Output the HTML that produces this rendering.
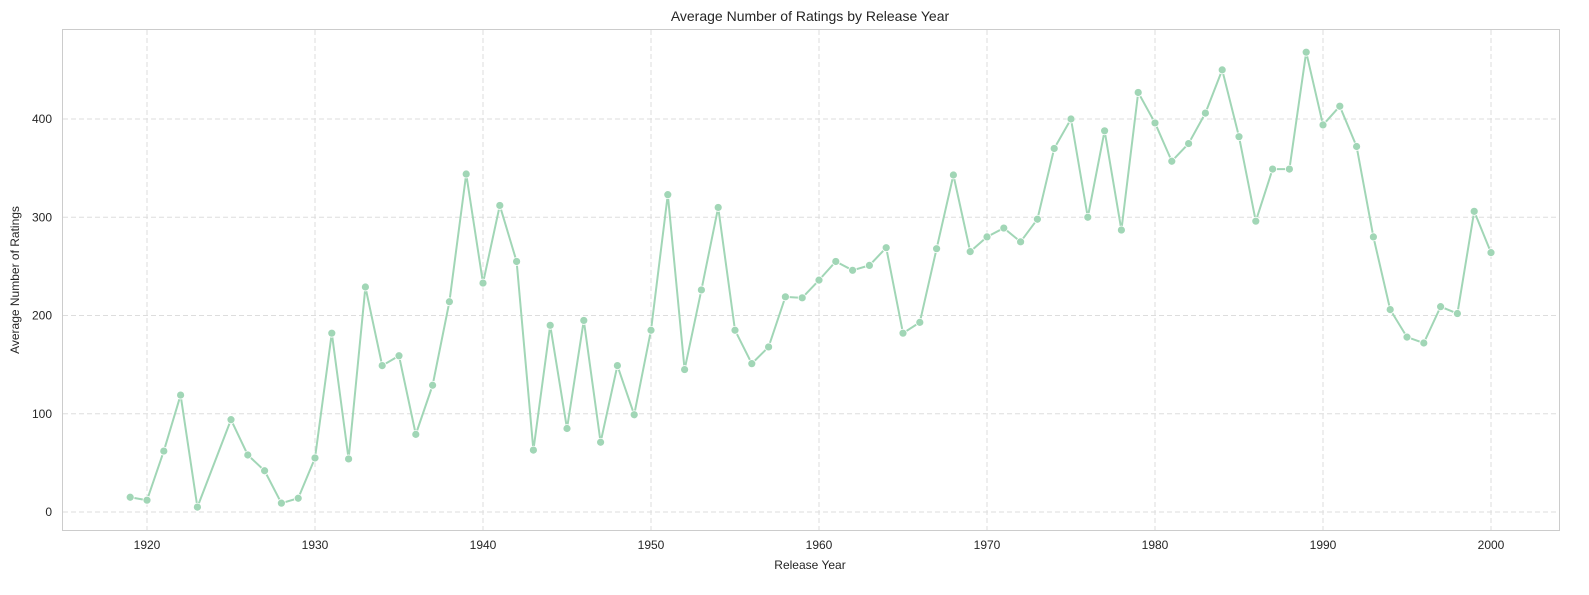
<!DOCTYPE html>
<html><head><meta charset="utf-8"><style>
body{margin:0;background:#fff;font-family:"Liberation Sans",Arial,sans-serif;}
svg text{font-family:"Liberation Sans",Arial,sans-serif;fill:#262626;}
</style></head><body>
<svg id="chart" width="1589" height="590" viewBox="0 0 1589 590" xmlns="http://www.w3.org/2000/svg">
<text x="810" y="21" font-size="14" text-anchor="middle">Average Number of Ratings by Release Year</text>
<text x="810" y="569" font-size="12" text-anchor="middle">Release Year</text>
<text transform="translate(19,280) rotate(-90)" font-size="12" text-anchor="middle">Average Number of Ratings</text>
<g id="grid"></g><g id="axes"></g><g id="series"></g>
<rect x="62.5" y="29.5" width="1497" height="501" fill="none" stroke="#cccccc" stroke-width="1"/>
</svg>
<script>
const years = [1919,1920,1921,1922,1923,1925,1926,1927,1928,1929,1930,1931,1932,1933,1934,1935,1936,1937,1938,1939,1940,1941,1942,1943,1944,1945,1946,1947,1948,1949,1950,1951,1952,1953,1954,1955,1956,1957,1958,1959,1960,1961,1962,1963,1964,1965,1966,1967,1968,1969,1970,1971,1972,1973,1974,1975,1976,1977,1978,1979,1980,1981,1982,1983,1984,1985,1986,1987,1988,1989,1990,1991,1992,1993,1994,1995,1996,1997,1998,1999,2000];
const ratings = [15,12,62,119,5,94,58,42,9,14,55,182,54,229,149,159,79,129,214,344,233,312,255,63,190,85,195,71,149,99,185,323,145,226,310,185,151,168,219,218,236,255,246,251,269,182,193,268,343,265,280,289,275,298,370,400,300,388,287,427,396,357,375,406,450,382,296,349,349,468,394,413,372,280,206,178,172,209,202,306,264];
const xTicks = [1920,1930,1940,1950,1960,1970,1980,1990,2000];
const yTicks = [0,100,200,300,400];
const NS="http://www.w3.org/2000/svg";
function xs(v){return 147+(v-1920)*16.8;}
function ys(v){return 512-v*0.9825;}
function mk(tag,attrs,parent){const e=document.createElementNS(NS,tag);for(const k in attrs)e.setAttribute(k,attrs[k]);parent.appendChild(e);return e;}
const grid=document.getElementById('grid'),axes=document.getElementById('axes'),series=document.getElementById('series');
xTicks.forEach(t=>{
  const l=mk('line',{x1:xs(t),x2:xs(t),y1:30,y2:530,stroke:'#dddddd','stroke-dasharray':'5,3'},grid);
  
  
  const tx=mk('text',{x:xs(t),y:549,'font-size':'12','text-anchor':'middle'},axes);
  tx.textContent=t;
  
  
});
yTicks.forEach(t=>{
  const l=mk('line',{x1:63,x2:1559,y1:ys(t),y2:ys(t),stroke:'#dddddd','stroke-dasharray':'5,3'},grid);
  
  
  const tx=mk('text',{x:52,y:ys(t)+4,'font-size':'12','text-anchor':'end'},axes);
  tx.textContent=t;
  
  
});
const pts=years.map((y,i)=>xs(y)+','+ys(ratings[i])).join(' ');
const pl=mk('polyline',{points:pts,fill:'none',stroke:'#a1d6b6','stroke-width':'2','stroke-linejoin':'round'},series);


years.forEach((y,i)=>{
  const c=mk('circle',{cx:xs(y),cy:ys(ratings[i]),r:4,fill:'#a1d6b6',stroke:'#ffffff','stroke-width':'0.8'},series);
  
  
});
</script>
</body></html>
